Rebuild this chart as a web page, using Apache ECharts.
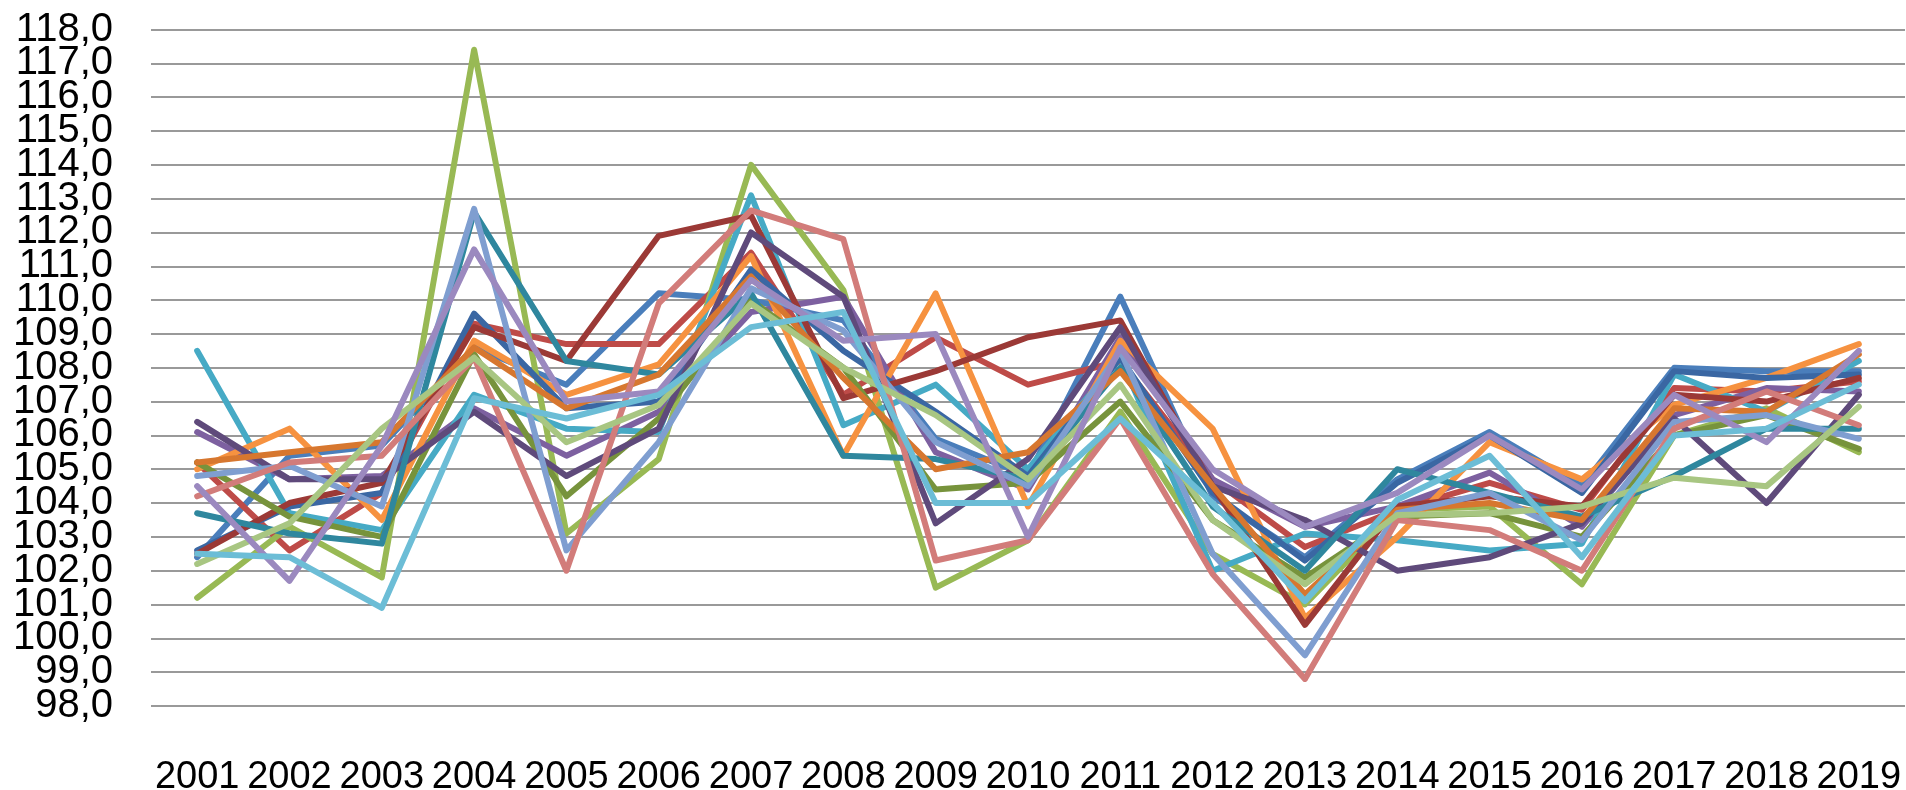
<!DOCTYPE html>
<html>
<head>
<meta charset="utf-8">
<script src="https://cdn.jsdelivr.net/npm/echarts@6/dist/echarts.min.js"></script>
<style>
html,body{margin:0;padding:0;background:#fff;}
#chart{width:1906px;height:790px;}
</style>
</head>
<body>
<div id="chart"></div>
<script>
const years = ['2001','2002','2003','2004','2005','2006','2007','2008','2009','2010','2011','2012','2013','2014','2015','2016','2017','2018','2019'];
const yTicksEven = [98,100,102,104,106,108,110,112,114,116,118];
const yTicksOdd  = [99,101,103,105,107,109,111,113,115,117];

const sBlue        = [102.4,105.4,105.7,108.6,107.5,110.2,110.0,109.4,105.9,104.8,110.1,104.2,102.4,104.7,106.1,104.5,108.0,107.9,107.9];
const sRed         = [105.2,102.6,104.3,109.3,108.7,108.7,111.4,107.2,108.9,107.5,108.2,104.7,102.7,103.8,104.6,103.8,107.4,107.3,107.6];
const sGreen       = [101.2,103.3,101.8,117.4,103.1,105.3,114.0,110.3,101.5,102.9,106.7,102.5,101.0,103.8,103.9,101.6,106.0,106.8,105.5];
const sPurple      = [106.1,104.7,104.8,106.8,105.4,106.7,109.65,110.1,105.5,104.4,108.9,104.7,103.3,103.9,104.9,103.3,106.6,107.4,107.3];
const sAqua        = [108.5,103.7,103.2,107.2,106.2,106.1,113.1,106.3,107.5,105.0,108.3,102.0,103.1,102.9,102.6,102.8,107.8,106.7,108.2];
const sOrange      = [105.0,106.2,103.5,108.8,107.2,108.1,111.3,105.4,110.2,103.9,108.8,106.2,100.6,103.0,105.8,104.7,106.9,107.7,108.7];
const sDarkBlue    = [102.6,103.9,104.3,109.6,106.8,107.0,110.9,108.5,106.7,104.8,108.3,104.3,102.3,104.6,106.0,104.3,107.9,107.7,107.8];
const sDarkRed     = [102.5,104.0,104.6,109.2,108.2,111.9,112.5,107.1,107.9,108.9,109.4,104.5,100.4,103.9,104.2,103.9,107.2,107.0,107.7];
const sDarkGreen   = [105.2,103.6,103.0,108.4,104.2,106.5,110.0,108.0,104.4,104.6,107.0,103.5,101.8,103.6,103.7,103.0,106.0,106.6,105.6];
const sDarkPurple  = [106.4,104.7,104.7,106.7,104.8,106.2,112.0,110.1,103.4,105.3,109.2,104.5,103.5,102.0,102.4,103.4,106.5,104.0,107.2];
const sDarkTeal    = [103.7,103.1,102.8,112.6,108.2,107.8,110.2,105.4,105.3,104.7,108.0,103.9,102.0,105.0,104.3,103.6,104.8,106.2,106.2];
const sDarkOrange  = [105.2,105.5,105.8,108.6,106.8,107.8,110.7,107.7,105.0,105.5,107.9,104.5,101.3,103.8,104.0,103.5,106.8,106.7,108.4];
const sLightBlue   = [104.8,105.1,103.9,112.7,102.6,105.8,110.35,109.1,105.8,104.5,108.5,102.5,99.5,103.7,104.3,102.9,106.4,106.6,105.9];
const sPink        = [104.2,105.2,105.4,108.3,102.0,109.9,112.65,111.8,102.3,102.9,106.5,101.9,98.8,103.5,103.2,102.0,106.2,107.3,106.3];
const sLightGreen  = [102.2,103.4,106.2,108.3,105.8,106.9,109.9,108.0,106.6,104.7,107.5,103.5,101.6,103.65,103.7,103.9,104.75,104.5,106.85];
const sLightPurple = [104.5,101.7,105.7,111.5,107.0,107.3,110.6,108.8,109.0,103.0,108.6,105.0,103.3,104.3,106.0,104.4,107.2,105.8,108.5];
const sLightAqua   = [102.5,102.4,100.9,107.1,106.5,107.2,109.2,109.65,104.0,104.0,106.5,104.0,101.1,104.1,105.4,102.4,106.0,106.2,107.5];

const seriesData = [sBlue,sRed,sGreen,sPurple,sAqua,sOrange,sDarkBlue,sDarkRed,sDarkGreen,sDarkPurple,sDarkTeal,sDarkOrange,sLightBlue,sPink,sLightGreen,sLightPurple,sLightAqua];
const colors = ['#4A7EBB','#BE4B48','#98B954','#7D60A0','#46AAC5','#F69240','#3A67A3','#9B3936','#77933C','#5F4A7B','#2F879E','#D7772F','#7F9ED0','#D27C7A','#A8C682','#9B89BF','#6CBDD6'];

const fmt = v => v.toFixed(1).replace('.', ',');
const yLabelStyle = {color:'#000',fontFamily:'Liberation Sans',fontSize:40,margin:38,hideOverlap:false,formatter:fmt};

const chart = echarts.init(document.getElementById('chart'), null, {renderer:'canvas'});
chart.setOption({
  animation:false,
  backgroundColor:'#ffffff',
  grid:{left:151,right:1,top:29.5,bottom:84,containLabel:false,outerBoundsMode:'none'},
  xAxis:{
    type:'category',
    data:years,
    boundaryGap:true,
    axisLine:{show:false},
    axisTick:{show:false},
    axisLabel:{color:'#000',fontFamily:'Liberation Sans',fontSize:38,margin:53,interval:0}
  },
  yAxis:[{
    type:'value',
    position:'left',
    min:98,max:118,interval:1,
    axisLine:{show:false},
    axisTick:{show:false},
    axisLabel:Object.assign({customValues:yTicksEven,showMinLabel:true,showMaxLabel:true}, yLabelStyle),
    splitLine:{show:true,lineStyle:{color:'#999999',width:2}}
  },{
    type:'value',
    position:'left',
    offset:0,
    min:98,max:118,interval:1,
    axisLine:{show:false},
    axisTick:{show:false},
    axisLabel:Object.assign({customValues:yTicksOdd}, yLabelStyle),
    splitLine:{show:false}
  }],
  series:seriesData.map((d,i)=>({
    type:'line',
    yAxisIndex:0,
    data:d,
    symbol:'none',
    lineStyle:{width:6,color:colors[i],join:'round',cap:'round'},
    itemStyle:{color:colors[i]}
  }))
});
</script>
</body>
</html>
